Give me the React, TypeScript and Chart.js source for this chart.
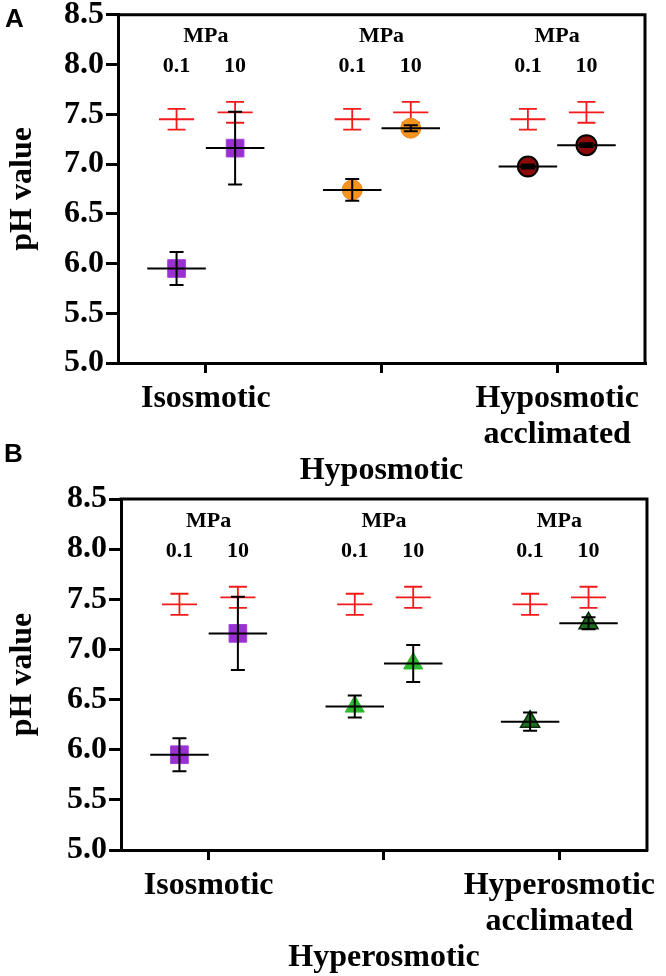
import { useEffect, useRef } from 'react';
import { Chart, registerables } from 'chart.js';

Chart.register(...registerables);

// pressure levels (MPa) shown above each group
const pressures = ['0.1', '10'];

// control (red) values, same in every group
const controlMean = [7.45, 7.52];
const controlSem = [0.105, 0.105];

// panel A
const isoMean = [5.95, 7.16];
const isoSem = [0.165, 0.365];
const hypoMean = [6.74, 7.36];
const hypoSem = [0.11, 0.03];
const hypoAcclMean = [6.975, 7.19];
const hypoAcclSem = [0.02, 0.02];

// panel B
const hyperMean = [6.43, 6.86];
const hyperSem = [0.11, 0.185];
const hyperAcclMean = [6.28, 7.26];
const hyperAcclSem = [0.09, 0.06];

const yTicks = [5.0, 5.5, 6.0, 6.5, 7.0, 7.5, 8.0, 8.5];
const labelsA = ['Isosmotic', ['', '', 'Hyposmotic'], ['Hyposmotic', 'acclimated']];
const labelsB = ['Isosmotic', ['', '', 'Hyperosmotic'], ['Hyperosmotic', 'acclimated']];

const SERIF = '"Liberation Serif", "Times New Roman", serif';

interface Group {
  mean: number[];
  sem: number[];
  style: string;
  radius: number;
  fill: string;
  border: string;
  borderWidth: number;
}

interface Panel {
  letter: string;
  labels: (string | string[])[];
  groups: Group[];
  top: number;
  height: number;
  padTop: number;
  padRight: number;
  yWidth: number;
  xHeight: number;
}

const isoGroup: Group = { mean: isoMean, sem: isoSem, style: 'rect', radius: 12.5, fill: '#9A2FD2', border: '#A640DC', borderWidth: 1 };

const panels: Panel[] = [
  {
    letter: 'A',
    labels: labelsA,
    groups: [
      isoGroup,
      { mean: hypoMean, sem: hypoSem, style: 'circle', radius: 10, fill: '#F7941E', border: '#E8861A', borderWidth: 1 },
      { mean: hypoAcclMean, sem: hypoAcclSem, style: 'circle', radius: 10, fill: '#8E0A0A', border: '#000', borderWidth: 2 },
    ],
    top: 0, height: 500, padTop: 14, padRight: 21, yWidth: 118, xHeight: 137,
  },
  {
    letter: 'B',
    labels: labelsB,
    groups: [
      isoGroup,
      { mean: hyperMean, sem: hyperSem, style: 'triangle', radius: 11, fill: '#2DB82D', border: '#2DB82D', borderWidth: 1 },
      { mean: hyperAcclMean, sem: hyperAcclSem, style: 'triangle', radius: 11, fill: '#1E6E1E', border: '#0A2A0A', borderWidth: 1.5 },
    ],
    top: 480, height: 496, padTop: 19, padRight: 18, yWidth: 121, xHeight: 126,
  },
];

const groupX = (g: number, p: number) => 3 * g + 1 + p;
const groupCenter = (g: number) => 3 * g + 1.5;

function drawBars(chart: any, kind: string) {
  const { ctx, scales: { x, y } } = chart;
  chart.data.datasets.forEach((ds: any) => {
    if (ds.kind !== kind) return;
    const meanHalf = kind === 'control' ? 0.3 : 0.5;
    const capHalf = kind === 'control' ? 9 : 7;
    ctx.save();
    ctx.strokeStyle = ds.barColor;
    ctx.lineWidth = kind === 'control' ? 1.8 : 2;
    ds.data.forEach((pt: any, i: number) => {
      const px = x.getPixelForValue(pt.x);
      const py = y.getPixelForValue(pt.y);
      const top = y.getPixelForValue(pt.y + ds.sem[i]);
      const bot = y.getPixelForValue(pt.y - ds.sem[i]);
      ctx.beginPath();
      ctx.moveTo(x.getPixelForValue(pt.x - meanHalf), py);
      ctx.lineTo(x.getPixelForValue(pt.x + meanHalf), py);
      ctx.moveTo(px, top);
      ctx.lineTo(px, bot);
      ctx.moveTo(px - capHalf, top);
      ctx.lineTo(px + capHalf, top);
      ctx.moveTo(px - capHalf, bot);
      ctx.lineTo(px + capHalf, bot);
      ctx.stroke();
    });
    ctx.restore();
  });
}

const errorBars = {
  id: 'errorBars',
  beforeDatasetsDraw(chart: any) { drawBars(chart, 'control'); },
  afterDatasetsDraw(chart: any) { drawBars(chart, 'treated'); },
};

const frame = {
  id: 'frame',
  afterDraw(chart: any) {
    const { ctx, chartArea: { left, top, right, bottom } } = chart;
    ctx.save();
    ctx.strokeStyle = '#000';
    ctx.lineWidth = 3;
    ctx.beginPath();
    ctx.moveTo(left - 1.5, top);
    ctx.lineTo(right, top);
    ctx.lineTo(right, bottom + 1.5);
    ctx.stroke();
    ctx.restore();
  },
};

const pressureLabels = {
  id: 'pressureLabels',
  afterDraw(chart: any) {
    const { ctx, scales: { x, y } } = chart;
    ctx.save();
    ctx.fillStyle = '#000';
    ctx.font = `bold 22px ${SERIF}`;
    ctx.textAlign = 'center';
    ctx.textBaseline = 'alphabetic';
    for (let g = 0; g < 3; g++) {
      ctx.fillText('MPa', x.getPixelForValue(groupCenter(g)), y.getPixelForValue(8.225));
      pressures.forEach((p, i) => {
        ctx.fillText(p, x.getPixelForValue(groupX(g, i)), y.getPixelForValue(7.925));
      });
    }
    ctx.restore();
  },
};

function PanelChart({ panel }: { panel: Panel }) {
  const chartRef = useRef<HTMLCanvasElement>(null);
  const chartInstance = useRef<Chart | null>(null);

  useEffect(() => {
    if (!chartRef.current) return;
    if (chartInstance.current) chartInstance.current.destroy();
    const ctx = chartRef.current.getContext('2d');
    if (!ctx) return;

    const controlPoints: { x: number; y: number }[] = [];
    const controlErr: number[] = [];
    panel.groups.forEach((_, g) => {
      controlMean.forEach((m, p) => {
        controlPoints.push({ x: groupX(g, p), y: m });
        controlErr.push(controlSem[p]);
      });
    });

    const datasets: any[] = [
      {
        kind: 'control',
        barColor: '#F21A1A',
        sem: controlErr,
        data: controlPoints,
        pointRadius: 0,
      },
      ...panel.groups.map((gr, g) => ({
        kind: 'treated',
        barColor: '#000',
        sem: gr.sem,
        data: gr.mean.map((m, p) => ({ x: groupX(g, p), y: m })),
        pointStyle: gr.style,
        pointRadius: gr.radius,
        backgroundColor: gr.fill,
        borderColor: gr.border,
        borderWidth: gr.borderWidth,
      })),
    ];

    chartInstance.current = new Chart(ctx, {
      type: 'scatter',
      data: { datasets },
      options: {
        animation: false,
        responsive: true,
        maintainAspectRatio: false,
        layout: { padding: { top: panel.padTop, right: panel.padRight, bottom: 0, left: 0 } },
        plugins: { legend: { display: false }, tooltip: { enabled: false } },
        scales: {
          x: {
            type: 'linear',
            min: 0,
            max: 9,
            afterBuildTicks: (s: any) => { s.ticks = [0, 1, 2].map((g) => ({ value: groupCenter(g) })); },
            afterFit: (s: any) => { s.height = panel.xHeight; },
            grid: { display: true, drawOnChartArea: false, drawTicks: true, tickLength: 10, lineWidth: 3, color: '#000' },
            border: { display: true, width: 3, color: '#000' },
            ticks: {
              autoSkip: false,
              maxRotation: 0,
              padding: 8,
              color: '#000',
              font: { family: SERIF, size: 32, weight: 'bold', lineHeight: 1.12 },
              callback: (_v: any, i: number) => panel.labels[i],
            },
          },
          y: {
            type: 'linear',
            min: 5,
            max: 8.5,
            afterBuildTicks: (s: any) => { s.ticks = yTicks.map((v) => ({ value: v })); },
            afterFit: (s: any) => { s.width = panel.yWidth; },
            grid: { display: true, drawOnChartArea: false, drawTicks: true, tickLength: 12, lineWidth: 3, color: '#000' },
            border: { display: true, width: 3, color: '#000' },
            ticks: {
              padding: 2,
              color: '#000',
              font: { family: SERIF, size: 32, weight: 'bold', lineHeight: 0.8 },
              callback: (v: any) => Number(v).toFixed(1),
            },
            title: {
              display: true,
              text: 'pH value',
              color: '#000',
              padding: { top: 4, bottom: 0 },
              font: { family: SERIF, size: 32, weight: 'bold' },
            },
          },
        },
      },
      plugins: [errorBars, frame, pressureLabels],
    });

    return () => {
      if (chartInstance.current) {
        chartInstance.current.destroy();
        chartInstance.current = null;
      }
    };
  }, [panel]);

  return (
    <div style={{ position: 'absolute', left: 0, top: panel.top, width: 666, height: panel.height }}>
      <canvas ref={chartRef}></canvas>
    </div>
  );
}

export default function App() {
  return (
    <div style={{ position: 'absolute', left: 0, top: 0, width: 666, height: 976, background: '#fff', overflow: 'hidden' }}>
      {panels.map((p) => (
        <PanelChart key={p.letter} panel={p} />
      ))}
      <div style={{ position: 'absolute', left: 5, top: 5, font: 'bold 26px "Liberation Sans", Arial, sans-serif', lineHeight: 1 }}>A</div>
      <div style={{ position: 'absolute', left: 4, top: 440, font: 'bold 26px "Liberation Sans", Arial, sans-serif', lineHeight: 1 }}>B</div>
    </div>
  );
}
